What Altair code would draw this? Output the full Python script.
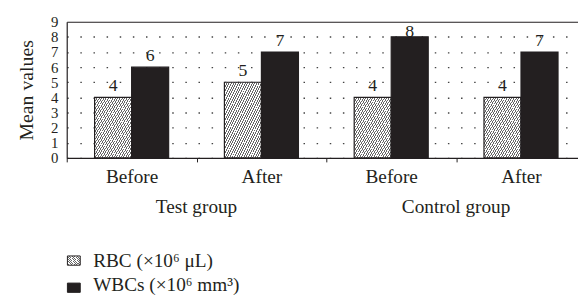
import altair as alt
import pandas as pd

# ---- data ----
groups = ["Test group", "Test group", "Control group", "Control group"]
phases = ["Before", "After", "Before", "After"]
rbc = [4, 5, 4, 4]
wbc = [6, 7, 8, 7]
series_names = ["RBC", "WBC"]
legend_labels = ["RBC (×10⁶ μL)", "WBCs (×10⁶ mm³)"]
group_order = ["Test group", "Control group"]
y_ticks = list(range(0, 10))

cats = [f"{g}|{p}" for g, p in zip(groups, phases)]
rows = []
for c, g, r, w in zip(cats, groups, rbc, wbc):
    rows.append({"cat": c, "group": g, "series": "RBC", "value": r})
    rows.append({"cat": c, "group": g, "series": "WBC", "value": w})
df = pd.DataFrame(rows)
gdf = pd.DataFrame({"group": group_order})
ldf = pd.DataFrame({"label": legend_labels, "series": series_names})

FONT = "Liberation Serif"
INK = "#231f20"
W, H = 518, 138
X_RANGE = [0, 526]


def hatch(n, line="#666666", bg="#ffffff", frac=0.42):
    stops = []
    for i in range(n):
        a = i / n
        b = (i + frac) / n
        c = (i + 1) / n
        stops += [
            {"offset": a, "color": line},
            {"offset": b, "color": line},
            {"offset": b, "color": bg},
            {"offset": c, "color": bg},
        ]
    return {"gradient": "linear", "x1": 0, "y1": 0, "x2": 1, "y2": 1, "stops": stops}


x_scale = alt.Scale(domain=cats, range=X_RANGE, paddingInner=0, paddingOuter=0)
xo_scale = alt.Scale(domain=series_names, paddingInner=0, paddingOuter=0.753)
y_scale = alt.Scale(domain=[0, 9], nice=False)

x_axis = alt.Axis(
    title=None, labelExpr="split(datum.value, '|')[1]", labelAngle=0,
    tickBand="extent", tickSize=4, labelPadding=6, domainColor=INK, tickColor=INK,
    labelFont=FONT, labelFontSize=19.5, labelColor=INK, grid=False, domainWidth=1.2,
)
y_axis = alt.Axis(
    title="Mean values", titleFont=FONT, titleFontSize=20, titleFontWeight="normal",
    titleColor=INK, titlePadding=14, values=y_ticks, labelFont=FONT, labelFontSize=15,
    labelColor=INK, labelPadding=9, ticks=False, domainColor=INK, domainWidth=1.2,
    labelOverlap=False, grid=True,
    gridDash=alt.condition("datum.value === 9", alt.value([]), alt.value([1.5, 11.8])),
    gridColor=alt.condition("datum.value === 9", alt.value(INK), alt.value("#444444")),
    gridWidth=alt.condition("datum.value === 9", alt.value(1.2), alt.value(1.4)),
)

base = alt.Chart(df).encode(
    x=alt.X("cat:N", scale=x_scale, axis=x_axis),
    xOffset=alt.XOffset("series:N", scale=xo_scale),
)

bars = base.mark_bar(stroke=INK, strokeWidth=1.2).encode(
    y=alt.Y("value:Q", scale=y_scale, axis=y_axis),
    fill=alt.condition("datum.series === 'RBC'", alt.value(hatch(32)), alt.value(INK)),
)

labels = base.transform_calculate(label_y="min(datum.value, 7.6)").mark_text(
    font=FONT, fontSize=18, color=INK, baseline="alphabetic", dy=-6
).encode(
    y=alt.Y("label_y:Q", scale=y_scale, axis=y_axis),
    text=alt.Text("value:Q"),
)

inner = alt.layer(bars, labels)

group_text = alt.Chart(gdf).mark_text(
    font=FONT, fontSize=19.5, color=INK, baseline="alphabetic"
).encode(
    x=alt.X("group:N", scale=alt.Scale(domain=group_order, range=X_RANGE, paddingInner=0, paddingOuter=0), axis=None),
    y=alt.value(194),
    text="group:N",
)

legend_marks = alt.Chart(ldf).mark_point(
    shape="M-1,-0.72L1,-0.72L1,0.72L-1,0.72Z", size=169, filled=True,
    stroke=INK, strokeWidth=1, opacity=1,
).encode(
    x=alt.value(7.2),
    y=alt.Y("label:N", scale=alt.Scale(type="point", domain=legend_labels, range=[242, 269.5], padding=0), axis=None),
    fill=alt.condition("datum.series === 'RBC'", alt.value(hatch(10)), alt.value(INK)),
)

legend_text = alt.Chart(ldf).mark_text(
    font=FONT, fontSize=19.5, color=INK, baseline="alphabetic", align="left"
).encode(
    x=alt.value(26.8),
    y=alt.Y("label:N", scale=alt.Scale(type="point", domain=legend_labels, range=[249, 273], padding=0), axis=None),
    text="label:N",
)

chart = alt.layer(inner, group_text, legend_marks, legend_text).resolve_scale(
    x="independent", y="independent"
).properties(
    width=W, height=H,
    autosize=alt.AutoSizeParams(type="none"),
    padding={"left": 59.5, "top": 12, "right": 0, "bottom": 140},
).configure_view(stroke=None)

chart.save("out.html", embed_options={"renderer": "svg", "actions": False})
